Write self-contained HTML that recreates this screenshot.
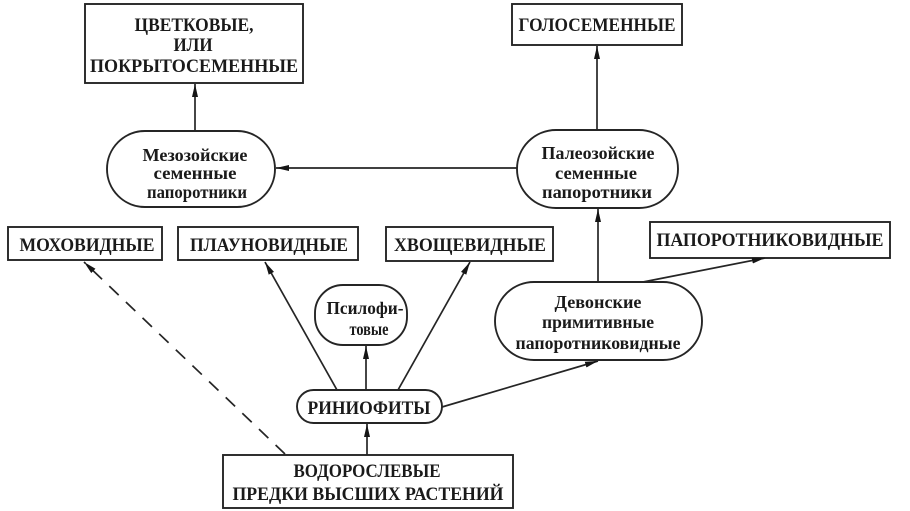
<!DOCTYPE html>
<html>
<head>
<meta charset="utf-8">
<style>
html,body{margin:0;padding:0;background:#fff;}
svg{display:block;}
text{font-family:"Liberation Serif","DejaVu Serif",serif;font-weight:bold;fill:#1a1a1a;}
.cap{font-size:19px;}
.low{font-size:18px;}
</style>
</head>
<body>
<svg width="910" height="511" viewBox="0 0 910 511" xmlns="http://www.w3.org/2000/svg">
<defs>
<marker id="ah" viewBox="0 0 13 7" refX="13" refY="3.5" markerWidth="13" markerHeight="7" markerUnits="userSpaceOnUse" orient="auto">
<path d="M0,0.5 L13,3.5 L0,6.5 z" fill="#151515"/>
</marker>
</defs>
<rect width="910" height="511" fill="#fff"/>
<g fill="none" stroke="#252525" stroke-width="1.9">
<!-- boxes -->
<rect x="85" y="4" width="218" height="79"/>
<rect x="512" y="4" width="170" height="41"/>
<rect x="8" y="227" width="154" height="33"/>
<rect x="178" y="227" width="180" height="33"/>
<rect x="386" y="227" width="167" height="34"/>
<rect x="650" y="222" width="240" height="36"/>
<rect x="223" y="455" width="290" height="53"/>
<!-- stadiums -->
<rect x="107" y="131" width="168" height="76" rx="38" ry="38"/>
<rect x="517" y="130" width="161" height="78" rx="39" ry="39"/>
<rect x="315" y="285" width="92" height="60" rx="28" ry="28"/>
<rect x="297" y="390" width="145" height="33" rx="16.5" ry="16.5"/>
<rect x="495" y="282" width="207" height="78" rx="39" ry="39"/>
</g>
<g fill="none" stroke="#252525" stroke-width="1.7">
<line x1="195" y1="131" x2="195" y2="84" marker-end="url(#ah)"/>
<line x1="597" y1="130" x2="597" y2="46" marker-end="url(#ah)"/>
<line x1="517" y1="168" x2="276" y2="168" marker-end="url(#ah)"/>
<line x1="598" y1="282" x2="598" y2="209" marker-end="url(#ah)"/>
<line x1="643" y1="282" x2="765" y2="258" marker-end="url(#ah)"/>
<line x1="442" y1="407" x2="598" y2="361" marker-end="url(#ah)"/>
<line x1="337" y1="390" x2="265" y2="262" marker-end="url(#ah)"/>
<line x1="398" y1="390" x2="470" y2="262" marker-end="url(#ah)"/>
<line x1="366" y1="390" x2="366" y2="346" marker-end="url(#ah)"/>
<line x1="367" y1="455" x2="367" y2="424" marker-end="url(#ah)"/>
<line x1="285" y1="454" x2="84" y2="262" stroke-dasharray="13,10" marker-end="url(#ah)"/>
</g>
<!-- box texts -->
<text class="cap" x="194" y="31" text-anchor="middle" textLength="119" lengthAdjust="spacingAndGlyphs">ЦВЕТКОВЫЕ,</text>
<text class="cap" x="193" y="51" text-anchor="middle" textLength="39" lengthAdjust="spacingAndGlyphs">ИЛИ</text>
<text class="cap" x="194" y="72" text-anchor="middle" textLength="208" lengthAdjust="spacingAndGlyphs">ПОКРЫТОСЕМЕННЫЕ</text>
<text class="cap" x="597" y="31" text-anchor="middle" textLength="157" lengthAdjust="spacingAndGlyphs">ГОЛОСЕМЕННЫЕ</text>
<text class="cap" x="87" y="251" text-anchor="middle" textLength="135" lengthAdjust="spacingAndGlyphs">МОХОВИДНЫЕ</text>
<text class="cap" x="269" y="251" text-anchor="middle" textLength="158" lengthAdjust="spacingAndGlyphs">ПЛАУНОВИДНЫЕ</text>
<text class="cap" x="470" y="251" text-anchor="middle" textLength="152" lengthAdjust="spacingAndGlyphs">ХВОЩЕВИДНЫЕ</text>
<text class="cap" x="770" y="246" text-anchor="middle" textLength="227" lengthAdjust="spacingAndGlyphs">ПАПОРОТНИКОВИДНЫЕ</text>
<text class="cap" x="367" y="477" text-anchor="middle" textLength="147" lengthAdjust="spacingAndGlyphs">ВОДОРОСЛЕВЫЕ</text>
<text class="cap" x="368" y="500" text-anchor="middle" textLength="271" lengthAdjust="spacingAndGlyphs">ПРЕДКИ ВЫСШИХ РАСТЕНИЙ</text>
<text class="cap" x="369" y="414" text-anchor="middle" textLength="123" lengthAdjust="spacingAndGlyphs">РИНИОФИТЫ</text>
<!-- stadium texts -->
<text class="low" x="195" y="161" text-anchor="middle" textLength="105" lengthAdjust="spacingAndGlyphs">Мезозойские</text>
<text class="low" x="195" y="179" text-anchor="middle" textLength="83" lengthAdjust="spacingAndGlyphs">семенные</text>
<text class="low" x="197" y="198" text-anchor="middle" textLength="100" lengthAdjust="spacingAndGlyphs">папоротники</text>
<text class="low" x="598" y="159" text-anchor="middle" textLength="113" lengthAdjust="spacingAndGlyphs">Палеозойские</text>
<text class="low" x="596" y="179" text-anchor="middle" textLength="82" lengthAdjust="spacingAndGlyphs">семенные</text>
<text class="low" x="597" y="198" text-anchor="middle" textLength="110" lengthAdjust="spacingAndGlyphs">папоротники</text>
<text class="low" x="365" y="314" text-anchor="middle" textLength="77" lengthAdjust="spacingAndGlyphs">Псилофи-</text>
<text class="low" x="369" y="335" text-anchor="middle" textLength="39" lengthAdjust="spacingAndGlyphs">товые</text>
<text class="low" x="598" y="308" text-anchor="middle" textLength="87" lengthAdjust="spacingAndGlyphs">Девонские</text>
<text class="low" x="598" y="328" text-anchor="middle" textLength="112" lengthAdjust="spacingAndGlyphs">примитивные</text>
<text class="low" x="598" y="349" text-anchor="middle" textLength="165" lengthAdjust="spacingAndGlyphs">папоротниковидные</text>
</svg>
</body>
</html>
